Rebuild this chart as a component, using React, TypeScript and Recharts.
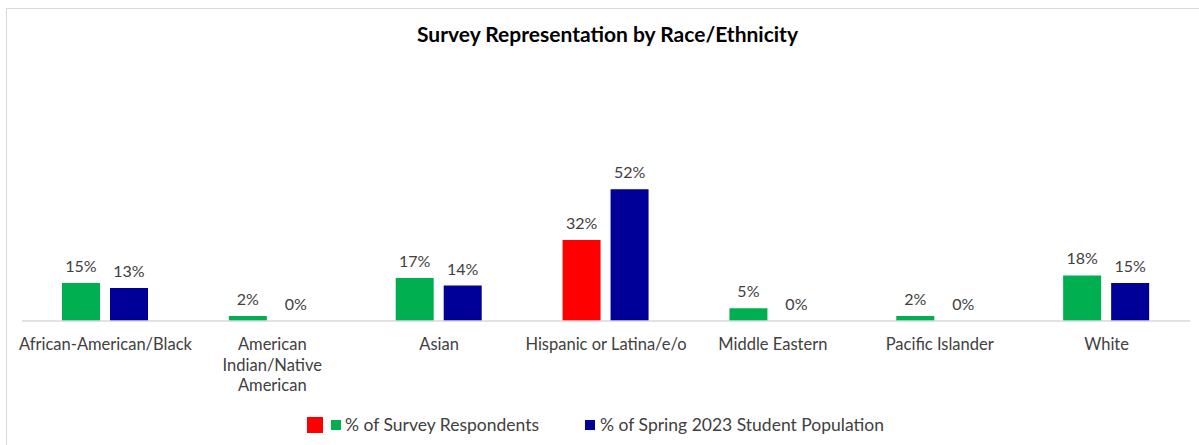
import { BarChart, Bar, XAxis, YAxis, Cell, LabelList } from 'recharts';

const categories = [
  'African-American/Black',
  'American\nIndian/Native\nAmerican',
  'Asian',
  'Hispanic or Latina/e/o',
  'Middle Eastern',
  'Pacific Islander',
  'White',
];
const surveyRespondents = [15, 2, 17, 32, 5, 2, 18];
const studentPopulation = [13, 0, 14, 52, 0, 0, 15];
const highlightCategory = 'Hispanic or Latina/e/o';

const seriesNames = ['% of Survey Respondents', '% of Spring 2023 Student Population'];

const GREEN = '#00B050';
const BLUE = '#000099';
const RED = '#FF0000';
const TEXT = '#404040';
const FONT = 'Lato, "Open Sans", sans-serif';

const rows = categories.map((c, i) => ({
  name: c,
  survey: surveyRespondents[i],
  population: studentPopulation[i],
}));

function WrappedTick({ x, y, payload }: any) {
  const lines = String(payload.value).split('\n');
  return (
    <text x={x} y={y} textAnchor="middle" fill={TEXT} fontSize={16.5} fontFamily={FONT}>
      {lines.map((l, i) => (
        <tspan key={i} x={x} dy={i === 0 ? 21 : 20.5}>{l}</tspan>
      ))}
    </text>
  );
}

const pct = (v: any) => `${v}%`;

export default function App() {
  return (
    <div style={{ position: 'relative', width: 1199, height: 445, background: '#fff', fontFamily: FONT, overflow: 'hidden' }}>
      <style>{'body{margin:0}'}</style>
      <div style={{ position: 'absolute', left: 6, top: 8, right: -2, bottom: -2, border: '1px solid #d9d9d9' }} />
      <div style={{ position: 'absolute', top: 21, left: 0, width: 1215, textAlign: 'center', fontSize: 21, fontWeight: 700, color: '#000' }}>
        Survey Representation by Race/Ethnicity
      </div>
      <div style={{ position: 'absolute', left: 0, top: 0 }}>
        <BarChart
          width={1199}
          height={445}
          data={rows}
          margin={{ top: 169, right: 9, bottom: 44, left: 22 }}
          barSize={38}
          barGap={10}
        >
          <XAxis
            dataKey="name"
            axisLine={{ stroke: '#d9d9d9', strokeWidth: 1.5 }}
            tickLine={false}
            interval={0}
            height={80}
            tick={<WrappedTick />}
          />
          <YAxis hide domain={[0, 60]} />
          <Bar dataKey="survey" name={seriesNames[0]} fill={GREEN} isAnimationActive={false} minPointSize={0.01}>
            {rows.map((r, i) => (
              <Cell key={i} fill={r.name === highlightCategory ? RED : GREEN} />
            ))}
            <LabelList dataKey="survey" position="top" offset={11} formatter={pct} fill={TEXT} fontSize={16} fontFamily={FONT} />
          </Bar>
          <Bar dataKey="population" name={seriesNames[1]} fill={BLUE} isAnimationActive={false} minPointSize={0.01}>
            <LabelList dataKey="population" position="top" offset={11} formatter={pct} fill={TEXT} fontSize={16} fontFamily={FONT} />
          </Bar>
        </BarChart>
      </div>
      <div style={{ position: 'absolute', top: 414, left: 0, width: 1191, display: 'flex', justifyContent: 'center', alignItems: 'center', fontSize: 17.5, color: TEXT }}>
        <span style={{ display: 'inline-block', width: 16, height: 16, background: RED, marginRight: 8 }} />
        <span style={{ display: 'inline-block', width: 10, height: 10, background: GREEN, marginRight: 4 }} />
        <span style={{ marginRight: 46 }}>{seriesNames[0]}</span>
        <span style={{ display: 'inline-block', width: 10, height: 10, background: BLUE, marginRight: 5 }} />
        <span>{seriesNames[1]}</span>
      </div>
    </div>
  );
}
